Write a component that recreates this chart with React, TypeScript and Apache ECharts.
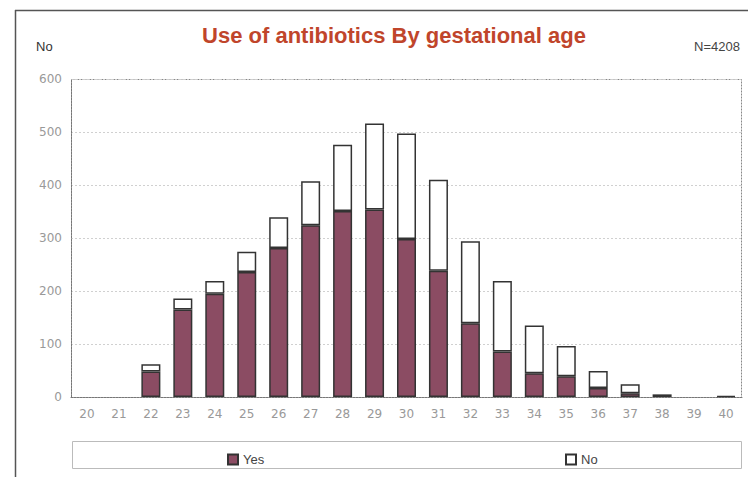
import React, { useEffect, useRef } from "react";
import * as echarts from "echarts";

const categories = ["20","21","22","23","24","25","26","27","28","29","30","31","32","33","34","35","36","37","38","39","40"];
const yesValues = [0, 0, 48, 165, 195, 236, 281, 324, 351, 354, 298, 238, 139, 86, 45, 39, 17, 7, 5, 0, 2];
const noValues = [0, 0, 14, 21, 24, 38, 58, 83, 125, 162, 199, 172, 155, 133, 90, 57, 32, 17, 0, 0, 0];
const yTicks = [0, 100, 200, 300, 400, 500, 600];

const hideZero = (arr: number[]) => arr.map((v) => (v === 0 ? "-" : v));

export default function App() {
  const ref = useRef<HTMLDivElement>(null);
  useEffect(() => {
    if (!ref.current) return;
    const chart = echarts.init(ref.current, null, { renderer: "svg" });
    const gridLeft = 71, gridTop = 79, gridRight = 6, gridBottom = 80;
    chart.setOption({
      animation: false,
      backgroundColor: "#ffffff",
      textStyle: { fontFamily: "DejaVu Sans" },
      title: {
        text: "Use of antibiotics By gestational age",
        left: 389,
        textAlign: "center",
        top: 19,
        textStyle: { color: "#c0452b", fontSize: 22, fontWeight: "bold", fontFamily: "Liberation Sans" },
      },
      legend: [
        {
          data: ["Yes"], left: 222, top: 448, itemWidth: 10, itemHeight: 10, icon: "rect", itemGap: 4,
          textStyle: { color: "#444", fontSize: 13, fontFamily: "Liberation Sans Narrow, Liberation Sans" },
        },
        {
          data: ["No"], left: 560, top: 448, itemWidth: 10, itemHeight: 10, icon: "rect", itemGap: 4,
          textStyle: { color: "#444", fontSize: 13, fontFamily: "Liberation Sans Narrow, Liberation Sans" },
        },
      ],
      grid: { left: gridLeft, right: gridRight, top: gridTop, bottom: gridBottom, containLabel: false },
      xAxis: {
        type: "category",
        data: categories,
        axisLine: { lineStyle: { color: "#777", type: [2, 1] } },
        axisTick: { show: false },
        axisLabel: { color: "#999", fontSize: 12, margin: 11 },
      },
      yAxis: {
        type: "value",
        min: 0,
        max: 600,
        interval: 100,
        axisLine: { show: true, lineStyle: { color: "#777", type: [2, 1] } },
        axisTick: { show: false },
        axisLabel: { color: "#999", fontSize: 12, margin: 9, formatter: (v: number) => (yTicks.includes(v) ? String(v) : "") },
        splitLine: { lineStyle: { color: "#d0d0d0", type: [2, 2] } },
      },
      graphic: [
        { type: "line", shape: { x1: 15.5, y1: 10, x2: 15.5, y2: 477 }, style: { stroke: "#555", lineWidth: 1.5 } },
        { type: "line", shape: { x1: 15, y1: 10.5, x2: 748, y2: 10.5 }, style: { stroke: "#555", lineWidth: 1.5 } },
        { type: "rect", shape: { x: 71.5, y: 79.5, width: 670, height: 318 }, style: { fill: "none", stroke: "#888", lineWidth: 1, lineDash: [2, 1] }, silent: true, z: -1 },
        { type: "rect", shape: { x: 72.5, y: 441.5, width: 669, height: 27 }, style: { fill: "none", stroke: "#bbb", lineWidth: 1 }, silent: true },
        { type: "text", left: 36, top: 40, style: { text: "No", fill: "#333", fontSize: 13, fontFamily: "Liberation Sans Narrow, Liberation Sans" } },
        { type: "text", right: 8, top: 40, style: { text: "N=4208", fill: "#444", fontSize: 13, fontFamily: "Liberation Sans Narrow, Liberation Sans" } },
      ],
      series: [
        {
          name: "Yes",
          type: "bar",
          stack: "total",
          barWidth: 19,
          data: hideZero(yesValues),
          itemStyle: { color: "#8b4c63", borderColor: "#333", borderWidth: 1.5 },
        },
        {
          name: "No",
          type: "bar",
          stack: "total",
          barWidth: 19,
          data: hideZero(noValues),
          itemStyle: { color: "#ffffff", borderColor: "#333", borderWidth: 1.5 },
        },
      ],
    });
    return () => chart.dispose();
  }, []);
  return <div ref={ref} style={{ width: 748, height: 477, position: "absolute", left: 0, top: 0 }} />;
}
